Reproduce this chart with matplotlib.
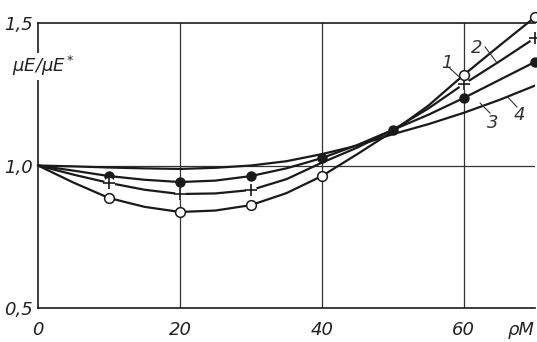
import matplotlib
matplotlib.use("Agg")
import matplotlib.pyplot as plt

# Values (every 5 units of pM)
pm = [0, 5, 10, 15, 20, 25, 30, 35, 40, 45, 50, 55, 60, 65, 70]
curve_1 = [1.0, 0.94, 0.886, 0.855, 0.837, 0.842, 0.861, 0.903, 0.963, 1.04, 1.12, 1.21, 1.318, 1.42, 1.52]
curve_2 = [1.0, 0.968, 0.939, 0.915, 0.900, 0.902, 0.914, 0.952, 1.010, 1.063, 1.125, 1.20, 1.286, 1.365, 1.447]
curve_3 = [1.0, 0.982, 0.963, 0.950, 0.942, 0.947, 0.963, 0.990, 1.026, 1.072, 1.125, 1.178, 1.237, 1.30, 1.363]
curve_4 = [1.0, 0.997, 0.993, 0.990, 0.988, 0.992, 1.0, 1.015, 1.04, 1.07, 1.11, 1.145, 1.185, 1.23, 1.28]

# pM values where the points carry a marker
marks_1 = [10, 20, 30, 40, 60, 70]
marks_2 = [10, 20, 30, 60, 70]
marks_3 = [10, 20, 30, 40, 50, 60, 70]

x_ticks = [0, 20, 40, 60]
x_tick_labels = ["0", "20", "40", "60"]
y_ticks = [0.5, 1.0, 1.5]
y_tick_labels = ["0,5", "1,0", "1,5"]

# curve number labels: (text, x, y, leader x0, y0, x1, y1)
curve_labels = [
    ("1", 57.6, 1.36, 58.0, 1.342, 59.4, 1.31),
    ("2", 61.8, 1.412, 63.0, 1.416, 64.6, 1.363),
    ("3", 64.1, 1.149, 62.3, 1.219, 63.7, 1.184),
    ("4", 67.9, 1.177, 66.2, 1.24, 67.5, 1.205),
]

INK = "#1a1a1a"
plt.rcParams["font.family"] = ["DejaVu Sans"]
plt.rcParams["font.style"] = "italic"


def pick(xs, ys, at):
    return [x for x in xs if x in at], [y for x, y in zip(xs, ys) if x in at]


fig = plt.figure(figsize=(5.37, 3.42), dpi=100)
ax = fig.add_axes([0.0708, 0.0994, 0.925, 0.8333])

ax.set_xlim(0, 70)
ax.set_ylim(0.5, 1.5)

# grid lines
for xv in x_ticks[1:]:
    ax.axvline(xv, color="#333333", lw=0.9, zorder=1)
ax.axhline(1.0, color="#333333", lw=0.9, zorder=1)

lw = 1.6
ax.plot(pm, curve_4, color=INK, lw=lw, zorder=2)
ax.plot(pm, curve_3, color=INK, lw=lw, zorder=2)
ax.plot(pm, curve_2, color=INK, lw=lw, zorder=2)
ax.plot(pm, curve_1, color=INK, lw=lw, zorder=2, clip_on=False)

mx, my = pick(pm, curve_3, marks_3)
ax.plot(mx, my, ls="none", marker="o", ms=6.5, mfc=INK, mec=INK, zorder=3, clip_on=False)

# white patch behind the plus so the line looks broken there
mx, my = pick(pm, curve_2, marks_2)
ax.plot(mx, my, ls="none", marker="o", ms=8, mfc="white", mec="none", zorder=3, clip_on=False)
ax.plot(mx, my, ls="none", marker="+", ms=8, mew=1.2, color=INK, zorder=4, clip_on=False)

mx, my = pick(pm, curve_1, marks_1)
ax.plot(mx, my, ls="none", marker="o", ms=7, mfc="white", mec=INK, mew=1.1, zorder=4, clip_on=False)

for txt, tx, ty, x0, y0, x1, y1 in curve_labels:
    ax.text(tx, ty, txt, fontsize=13, color="#333333", ha="center", va="center", zorder=5)
    ax.plot([x0, x1], [y0, y1], color="#333333", lw=0.8, zorder=5)

ax.spines["right"].set_visible(False)
for s in ["left", "bottom", "top"]:
    ax.spines[s].set_linewidth(1.2)
    ax.spines[s].set_color(INK)

ax.set_xticks(x_ticks)
ax.set_xticklabels(x_tick_labels)
ax.set_yticks(y_ticks)
ax.set_yticklabels(y_tick_labels)
ax.tick_params(axis="both", length=0, labelsize=13, colors="#222222")
ax.tick_params(axis="x", pad=9)
ax.tick_params(axis="y", pad=4)

fig.text(0.022, 0.807, "μE/μE$^*$", fontsize=13, color="#222222", va="center", ha="left",
         bbox=dict(facecolor="white", edgecolor="none", pad=1))
fig.text(0.946, 0.035, "ρM", fontsize=13, color="#222222", va="center", ha="left")

fig.savefig("out.png", dpi=100, facecolor="white")
